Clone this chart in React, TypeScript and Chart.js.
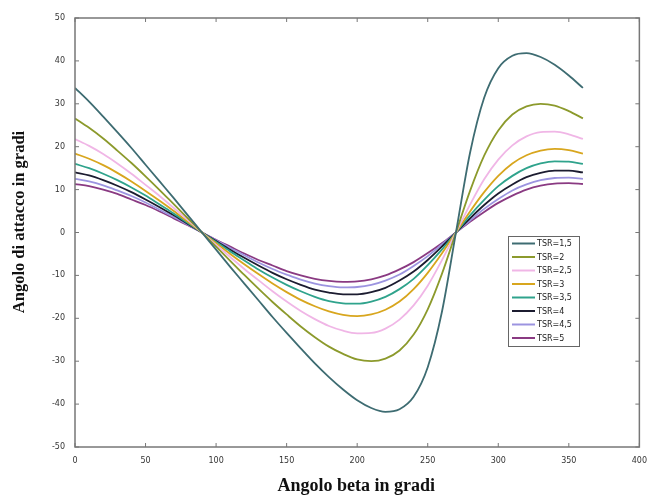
import React, { useEffect, useRef } from "react";
import { Chart, registerables } from "chart.js";

Chart.register(...registerables);

const beta = [0, 10, 20, 30, 40, 50, 60, 70, 80, 90, 100, 110, 120, 130, 140, 150, 160, 170, 180, 190, 200, 210, 220, 230, 240, 250, 260, 270, 280, 290, 300, 310, 320, 330, 340, 350, 360];

const tsr15 = [33.7, 30.5, 27.0, 23.4, 19.7, 15.8, 11.9, 8.0, 4.0, 0, -4.0, -8.0, -11.9, -15.8, -19.7, -23.4, -27.0, -30.5, -33.7, -36.6, -39.1, -40.9, -41.8, -41.2, -38.3, -31.4, -18.6, 0, 18.6, 31.4, 38.3, 41.2, 41.8, 40.9, 39.1, 36.6, 33.7];
const tsr2 = [26.6, 24.4, 21.9, 19.1, 16.2, 13.1, 9.9, 6.6, 3.3, 0, -3.3, -6.6, -9.9, -13.1, -16.2, -19.1, -21.9, -24.4, -26.6, -28.3, -29.6, -30.0, -29.4, -27.5, -23.8, -17.9, -9.7, 0, 9.7, 17.9, 23.8, 27.5, 29.4, 30.0, 29.6, 28.3, 26.6];
const tsr25 = [21.8, 20.2, 18.3, 16.1, 13.7, 11.1, 8.5, 5.7, 2.9, 0, -2.9, -5.7, -8.5, -11.1, -13.7, -16.1, -18.3, -20.2, -21.8, -22.9, -23.5, -23.4, -22.4, -20.3, -17.0, -12.4, -6.5, 0, 6.5, 12.4, 17.0, 20.3, 22.4, 23.4, 23.5, 22.9, 21.8];
const tsr3 = [18.4, 17.2, 15.7, 13.9, 11.9, 9.7, 7.4, 5.0, 2.5, 0, -2.5, -5.0, -7.4, -9.7, -11.9, -13.9, -15.7, -17.2, -18.4, -19.2, -19.5, -19.1, -18.0, -16.1, -13.2, -9.4, -4.9, 0, 4.9, 9.4, 13.2, 16.1, 18.0, 19.1, 19.5, 19.2, 18.4];
const tsr35 = [16.0, 15.0, 13.7, 12.2, 10.5, 8.6, 6.5, 4.4, 2.2, 0, -2.2, -4.4, -6.5, -8.6, -10.5, -12.2, -13.7, -15.0, -16.0, -16.5, -16.6, -16.1, -15.0, -13.2, -10.8, -7.6, -4.0, 0, 4.0, 7.6, 10.8, 13.2, 15.0, 16.1, 16.6, 16.5, 16.0];
const tsr4 = [14.0, 13.3, 12.2, 10.9, 9.4, 7.7, 5.9, 4.0, 2.0, 0, -2.0, -4.0, -5.9, -7.7, -9.4, -10.9, -12.2, -13.3, -14.0, -14.4, -14.4, -13.9, -12.9, -11.2, -9.1, -6.4, -3.3, 0, 3.3, 6.4, 9.1, 11.2, 12.9, 13.9, 14.4, 14.4, 14.0];
const tsr45 = [12.5, 11.9, 11.0, 9.8, 8.5, 7.0, 5.3, 3.6, 1.8, 0, -1.8, -3.6, -5.3, -7.0, -8.5, -9.8, -11.0, -11.9, -12.5, -12.8, -12.7, -12.2, -11.2, -9.8, -7.8, -5.5, -2.8, 0, 2.8, 5.5, 7.8, 9.8, 11.2, 12.2, 12.7, 12.8, 12.5];
const tsr5 = [11.3, 10.8, 10.0, 9.0, 7.7, 6.4, 4.9, 3.3, 1.7, 0, -1.7, -3.3, -4.9, -6.4, -7.7, -9.0, -10.0, -10.8, -11.3, -11.5, -11.4, -10.9, -10.0, -8.6, -6.9, -4.8, -2.5, 0, 2.5, 4.8, 6.9, 8.6, 10.0, 10.9, 11.4, 11.5, 11.3];

const seriesLabels = ["TSR=1,5", "TSR=2", "TSR=2,5", "TSR=3", "TSR=3,5", "TSR=4", "TSR=4,5", "TSR=5"];
const seriesValues = [tsr15, tsr2, tsr25, tsr3, tsr35, tsr4, tsr45, tsr5];
const seriesColors = ["#3e6c72", "#8c9a2c", "#f0b6e6", "#d8a61e", "#2fa38c", "#1c1c30", "#9c94e0", "#8a3a82"];

const xTitle = "Angolo beta in gradi";
const yTitle = "Angolo di attacco in gradi";

const framePlugin = {
  id: "matlabFrame",
  afterDraw(chart: any) {
    const { ctx, chartArea, scales } = chart;
    const { left, right, top, bottom } = chartArea;
    const x = scales.x;
    const y = scales.y;
    ctx.save();
    ctx.strokeStyle = "#777";
    ctx.lineWidth = 1.5;
    ctx.strokeRect(left, top, right - left, bottom - top);
    ctx.lineWidth = 1;
    const tl = 4;
    x.ticks.forEach((t: any) => {
      const px = x.getPixelForValue(t.value);
      ctx.beginPath();
      ctx.moveTo(px, bottom);
      ctx.lineTo(px, bottom - tl);
      ctx.moveTo(px, top);
      ctx.lineTo(px, top + tl);
      ctx.stroke();
    });
    y.ticks.forEach((t: any) => {
      const py = y.getPixelForValue(t.value);
      ctx.beginPath();
      ctx.moveTo(left, py);
      ctx.lineTo(left + tl, py);
      ctx.moveTo(right, py);
      ctx.lineTo(right - tl, py);
      ctx.stroke();
    });

    // axis titles
    ctx.fillStyle = "#111";
    ctx.textAlign = "center";
    ctx.textBaseline = "middle";
    ctx.font = "bold 18px 'Liberation Serif', serif";
    ctx.fillText(xTitle, (left + right) / 2 - 1, 486);
    ctx.save();
    ctx.translate(20, 222);
    ctx.rotate(-Math.PI / 2);
    ctx.font = "bold 16.5px 'Liberation Serif', serif";
    ctx.fillText(yTitle, 0, 0);
    ctx.restore();

    // legend box
    const ds = chart.data.datasets;
    const lx = 508;
    const ly = 236;
    const lw = 71;
    const rowH = 13.5;
    const lh = ds.length * rowH + 2;
    ctx.fillStyle = "#ffffff";
    ctx.fillRect(lx, ly, lw, lh);
    ctx.strokeStyle = "#666";
    ctx.lineWidth = 1;
    ctx.strokeRect(lx + 0.5, ly + 0.5, lw, lh);
    ctx.font = "8px 'DejaVu Sans', sans-serif";
    ctx.textAlign = "left";
    ctx.textBaseline = "middle";
    ds.forEach((d: any, i: number) => {
      const cy = ly + 7.5 + i * rowH;
      ctx.strokeStyle = d.borderColor;
      ctx.lineWidth = 2;
      ctx.beginPath();
      ctx.moveTo(lx + 4, cy);
      ctx.lineTo(lx + 27, cy);
      ctx.stroke();
      ctx.fillStyle = "#222";
      ctx.fillText(d.label, lx + 29, cy + 0.5);
    });
    ctx.restore();
  },
};

export default function App() {
  const ref = useRef<HTMLCanvasElement | null>(null);
  useEffect(() => {
    if (!ref.current) return;
    const chart = new Chart(ref.current, {
      type: "line",
      data: {
        datasets: seriesValues.map((vals, i) => ({
          label: seriesLabels[i],
          data: vals.map((v, j) => ({ x: beta[j], y: v })),
          borderColor: seriesColors[i],
          backgroundColor: seriesColors[i],
          borderWidth: 1.8,
          pointRadius: 0,
          cubicInterpolationMode: "monotone" as const,
          fill: false,
        })),
      },
      options: {
        animation: false,
        responsive: false,
        maintainAspectRatio: false,
        layout: { padding: { top: 18, right: 8, left: 0, bottom: 0 } },
        plugins: {
          legend: { display: false },
          tooltip: { enabled: false },
        },
        scales: {
          x: {
            type: "linear",
            min: 0,
            max: 400,
            grid: { display: false },
            border: { display: false },
            ticks: {
              stepSize: 50,
              padding: 1,
              color: "#333",
              font: { size: 8, family: "'DejaVu Sans', sans-serif" },
              maxRotation: 0,
            },
            afterFit(scale: any) {
              scale.height = 52;
            },
          },
          y: {
            type: "linear",
            min: -50,
            max: 50,
            grid: { display: false },
            border: { display: false },
            ticks: {
              stepSize: 10,
              padding: 2,
              color: "#333",
              font: { size: 8, family: "'DejaVu Sans', sans-serif" },
            },
            afterFit(scale: any) {
              scale.width = 75;
            },
          },
        },
      },
      plugins: [framePlugin],
    });
    return () => chart.destroy();
  }, []);
  return (
    <div style={{ position: "fixed", left: 0, top: 0, width: 648, height: 499, background: "#fff" }}>
      <canvas ref={ref} width={648} height={499} style={{ width: 648, height: 499 }} />
    </div>
  );
}
